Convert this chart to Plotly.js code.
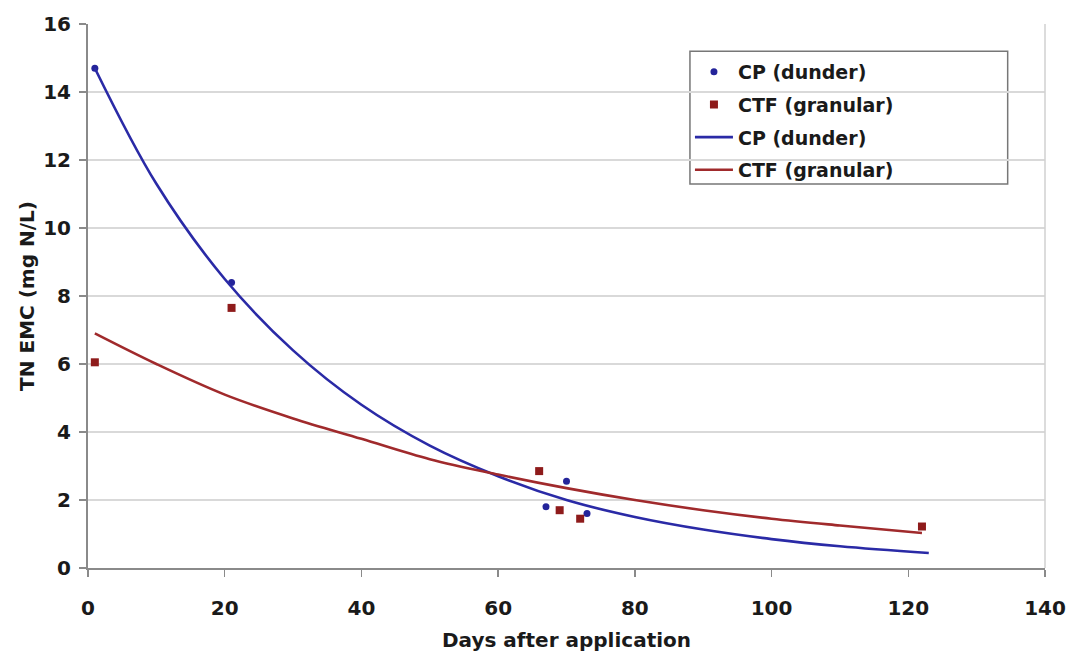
<!DOCTYPE html>
<html>
<head>
<meta charset="utf-8">
<script src="https://cdn.plot.ly/plotly-3.0.1.min.js"></script>
<style>html,body{margin:0;padding:0;background:#fff;}#chart{width:1070px;height:655px;}</style>
</head>
<body>
<div id="chart"></div>
<script>
// Observed data points
const cpDays = [1, 21, 67, 70, 73];
const cpTN = [14.7, 8.4, 1.8, 2.55, 1.6];
const ctfDays = [1, 21, 66, 69, 72, 122];
const ctfTN = [6.05, 7.65, 2.85, 1.7, 1.45, 1.22];

// Trend curves
const cpTrendDays = [1, 10, 20, 30, 40, 50, 60, 70, 80, 90, 100, 110, 123];
const cpTrendTN = [14.7, 11.3, 8.5, 6.4, 4.8, 3.6, 2.7, 2.0, 1.5, 1.13, 0.85, 0.64, 0.44];
const ctfTrendDays = [1, 10, 20, 30, 40, 50, 60, 70, 80, 90, 100, 110, 122];
const ctfTrendTN = [6.9, 6.0, 5.1, 4.4, 3.8, 3.2, 2.75, 2.35, 2.0, 1.7, 1.45, 1.25, 1.03];

const blue = '#24249a';
const red = '#8e1b1b';
const fontFam = 'DejaVu Sans, Verdana, sans-serif';
const txt = '#1a1a1a';

const traces = [
  {x: cpDays, y: cpTN, type: 'scatter', mode: 'markers', name: 'CP (dunder)', legendgroup: 'a',
   marker: {color: blue, size: 7, symbol: 'circle'}},
  {x: ctfDays, y: ctfTN, type: 'scatter', mode: 'markers', name: 'CTF (granular)', legendgroup: 'b',
   marker: {color: red, size: 8, symbol: 'square'}},
  {x: cpTrendDays, y: cpTrendTN, type: 'scatter', mode: 'lines', name: 'CP (dunder)', legendgroup: 'c',
   line: {color: '#2a2aa6', width: 2.6, shape: 'spline'}},
  {x: ctfTrendDays, y: ctfTrendTN, type: 'scatter', mode: 'lines', name: 'CTF (granular)', legendgroup: 'd',
   line: {color: '#a02a2c', width: 2.6, shape: 'spline'}}
];

const layout = {
  width: 1070, height: 655,
  margin: {l: 88, r: 25, t: 24, b: 87},
  paper_bgcolor: '#fff', plot_bgcolor: '#fff',
  font: {family: fontFam, color: txt, size: 19, weight: 'bold'},
  showlegend: true,
  legend: {x: 0.629, y: 0.947, xanchor: 'left', yanchor: 'top',
    bgcolor: 'rgba(0,0,0,0)', borderwidth: 0,
    font: {family: fontFam, size: 19, color: txt, weight: 'bold'},
    itemwidth: 38, tracegroupgap: 5},
  xaxis: {range: [0, 140], dtick: 20, tick0: 0,
    showgrid: false, zeroline: false,
    showline: true, linecolor: '#8a8a8a', linewidth: 2,
    ticks: 'outside', ticklen: 7, tickcolor: '#8a8a8a', tickwidth: 1.5,
    ticklabelstandoff: 14,
    tickfont: {family: fontFam, size: 20, color: txt, weight: 'bold'},
    title: {text: 'Days after application', standoff: 14,
      font: {family: fontFam, size: 20, color: txt, weight: 'bold'}}},
  yaxis: {range: [0, 16], dtick: 2, tick0: 0,
    showgrid: true, gridcolor: '#d9d9d9', gridwidth: 1.5, zeroline: false,
    showline: true, linecolor: '#8a8a8a', linewidth: 2,
    ticks: 'outside', ticklen: 7, tickcolor: '#8a8a8a', tickwidth: 1.5,
    ticklabelstandoff: 4,
    tickfont: {family: fontFam, size: 20, color: txt, weight: 'bold'},
    title: {text: 'TN EMC (mg N/L)', standoff: 3,
      font: {family: fontFam, size: 20, color: txt, weight: 'bold'}}},
  shapes: [
    {type: 'line', xref: 'paper', yref: 'paper', x0: 1, x1: 1, y0: 0, y1: 1,
     line: {color: '#d0d0d0', width: 1.5}},
    {type: 'rect', xref: 'paper', yref: 'paper', x0: 0.629, x1: 0.961, y0: 0.706, y1: 0.950,
     fillcolor: '#fff', line: {color: '#777', width: 1.5}, layer: 'below'}
  ]
};

Plotly.newPlot('chart', traces, layout, {displayModeBar: false, staticPlot: true});
</script>
</body>
</html>
